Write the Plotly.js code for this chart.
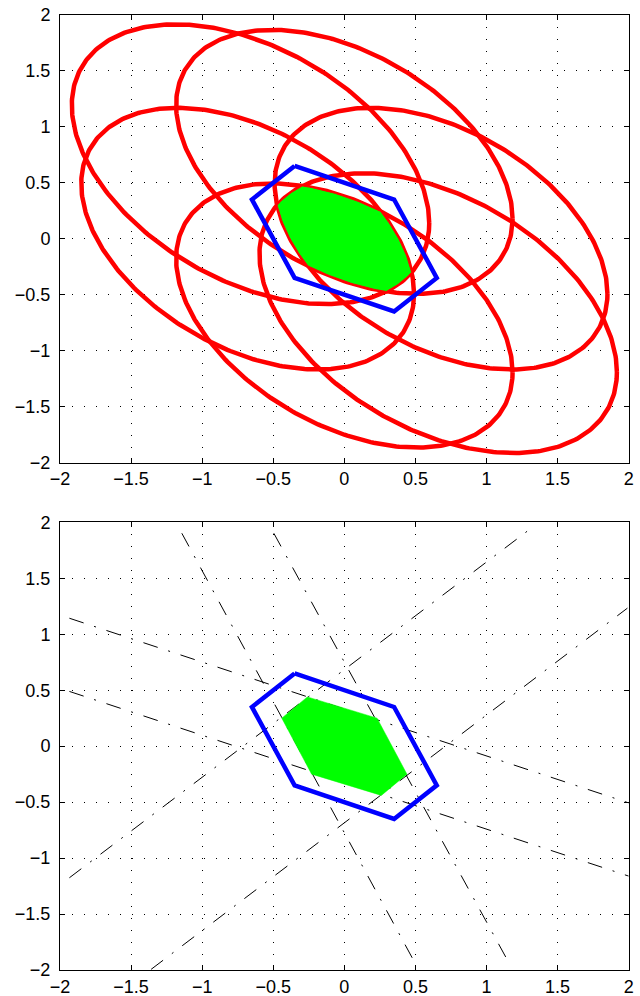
<!DOCTYPE html>
<html>
<head>
<meta charset="utf-8">
<script src="https://cdn.plot.ly/plotly-3.0.1.min.js"></script>
<style>html,body{margin:0;padding:0;background:#fff;}#chart{width:640px;height:996px;}</style>
</head>
<body>
<div id="chart"></div>
<script>
// ---------- data ----------
// axis ticks
const tickVals = [-2, -1.5, -1, -0.5, 0, 0.5, 1, 1.5, 2];
const tickLabels = ['\u22122', '\u22121.5', '\u22121', '\u22120.5', '0', '0.5', '1', '1.5', '2'];

// six red ellipses (centre and shape matrix entries)
const ellCx  = [-0.66, 0.00, -0.68, 0.68, 0.00, 0.66];
const ellCy  = [ 0.665, 0.686, 0.00, 0.00, -0.686, -0.665];
const ellP11 = [1.58, 1.40, 1.37, 1.37, 1.40, 1.58];
const ellP12 = [-0.66, -0.60, -0.575, -0.575, -0.60, -0.66];
const ellP22 = [1.56, 1.39, 1.365, 1.365, 1.39, 1.56];

// blue hexagon (both panels)
const hexX = [-0.35, 0.35, 0.65, 0.35, -0.35, -0.65, -0.35];
const hexY = [ 0.65, 0.35, -0.35, -0.65, -0.35, 0.35, 0.65];

// green hexagon (bottom panel)
const greenX = [-0.26, 0.23, 0.44, 0.26, -0.23, -0.44, -0.26];
const greenY = [ 0.44, 0.25, -0.25, -0.44, -0.25, 0.25, 0.44];

// dash-dot strip boundary lines (bottom panel): start and end points
const lineX0 = [-1.934, -1.934, -1.143, -0.496, -1.934, -1.359];
const lineY0 = [ 1.143,  0.489,  1.902,  1.902, -1.176, -1.994];
const lineX1 = [ 2.000,  2.000,  0.496,  1.157,  1.344,  1.991];
const lineY1 = [-0.507, -1.161, -1.935, -1.935,  1.976,  1.233];

// ---------- geometry helpers ----------
const NPTS = 360;
function ellipsePts(i) {
  const a = Math.sqrt(ellP11[i]);
  const b = ellP12[i] / a;
  const c = Math.sqrt(ellP22[i] - b * b);
  const xs = [], ys = [];
  for (let k = 0; k <= NPTS; k++) {
    const t = 2 * Math.PI * k / NPTS;
    const u = Math.cos(t), v = Math.sin(t);
    xs.push(ellCx[i] + a * u);
    ys.push(ellCy[i] + b * u + c * v);
  }
  return {x: xs, y: ys};
}
function clip(subject, clipPoly) {
  let out = subject;
  const n = clipPoly.length;
  for (let e = 0; e < n; e++) {
    const A = clipPoly[e], B = clipPoly[(e + 1) % n];
    const inp = out; out = [];
    if (!inp.length) break;
    const side = P => (B[0]-A[0])*(P[1]-A[1]) - (B[1]-A[1])*(P[0]-A[0]);
    for (let k = 0; k < inp.length; k++) {
      const P = inp[k], Q = inp[(k + 1) % inp.length];
      const sp = side(P), sq = side(Q);
      if (sp >= 0) out.push(P);
      if ((sp >= 0) !== (sq >= 0)) {
        const t = sp / (sp - sq);
        out.push([P[0] + t*(Q[0]-P[0]), P[1] + t*(Q[1]-P[1])]);
      }
    }
  }
  return out;
}

const traces = [];
const ells = ellCx.map((_, i) => ellipsePts(i));
ells.forEach(e => traces.push({
  x: e.x, y: e.y, mode: 'lines', xaxis: 'x', yaxis: 'y',
  line: {color: '#ff0000', width: 4.5}, hoverinfo: 'skip'
}));
// intersection of all ellipses
let region = ells[0].x.slice(0, NPTS).map((x, k) => [x, ells[0].y[k]]);
for (let i = 1; i < ells.length; i++) {
  const poly = ells[i].x.slice(0, NPTS).map((x, k) => [x, ells[i].y[k]]);
  region = clip(region, poly);
}
region.push(region[0]);
traces.push({
  x: region.map(p => p[0]), y: region.map(p => p[1]), mode: 'lines',
  fill: 'toself', fillcolor: '#00ff00', line: {color: '#ff0000', width: 1},
  xaxis: 'x', yaxis: 'y', hoverinfo: 'skip'
});
traces.push({
  x: hexX, y: hexY, mode: 'lines', xaxis: 'x', yaxis: 'y',
  line: {color: '#0000ff', width: 4.5}, hoverinfo: 'skip'
});

// bottom panel
const lx = [], ly = [];
for (let i = 0; i < lineX0.length; i++) {
  lx.push(lineX0[i], lineX1[i], null);
  ly.push(lineY0[i], lineY1[i], null);
}
traces.push({
  x: lx, y: ly, mode: 'lines', xaxis: 'x2', yaxis: 'y2',
  line: {color: '#000', width: 1, dash: '15px,11px,2px,11px'}, hoverinfo: 'skip'
});
traces.push({
  x: greenX, y: greenY, mode: 'lines', fill: 'toself', fillcolor: '#00ff00',
  line: {color: '#00ff00', width: 0.5}, xaxis: 'x2', yaxis: 'y2', hoverinfo: 'skip'
});
traces.push({
  x: hexX, y: hexY, mode: 'lines', xaxis: 'x2', yaxis: 'y2',
  line: {color: '#0000ff', width: 4.5}, hoverinfo: 'skip'
});

function ax(domain, anchor, standoff) {
  return {
    domain: domain, anchor: anchor, range: [-2, 2], autorange: false,
    tickmode: 'array', tickvals: tickVals, ticktext: tickLabels,
    ticks: 'inside', ticklen: 5, tickwidth: 1, tickcolor: '#000',
    showline: true, linecolor: '#000', linewidth: 1, mirror: 'allticks',
    showgrid: true, gridcolor: '#000', gridwidth: 1, griddash: '1px,11px',
    zeroline: false, ticklabelstandoff: standoff,
    tickfont: {family: 'Liberation Sans, Arial, sans-serif', size: 18, color: '#000'},
    fixedrange: true
  };
}
const xd = [60/640, 628.7/640];
const layout = {
  width: 640, height: 996, margin: {l: 0, r: 0, t: 0, b: 0},
  paper_bgcolor: '#fff', plot_bgcolor: '#fff', showlegend: false,
  xaxis: ax(xd, 'y', 0),
  yaxis: ax([1 - 462.7/996, 1 - 14.7/996], 'x', 5),
  xaxis2: ax(xd, 'y2', 0),
  yaxis2: ax([1 - 970/996, 1 - 522.3/996], 'x2', 5)
};
Plotly.newPlot('chart', traces, layout, {staticPlot: true});
</script>
</body>
</html>
